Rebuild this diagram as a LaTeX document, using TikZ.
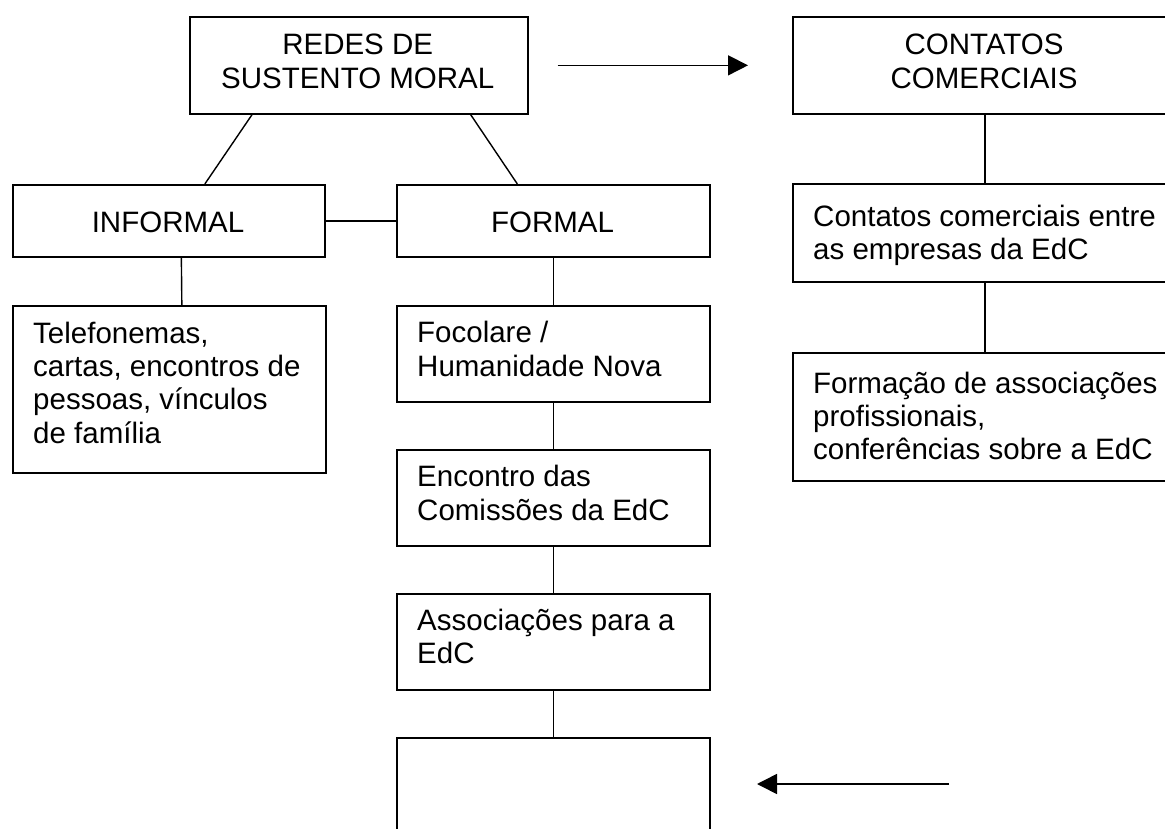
\documentclass[tikz,border=0pt]{standalone}
\usepackage{fontspec}
\setmainfont{Liberation Sans}
\usetikzlibrary{arrows.meta}

\tikzset{
  caixa/.style={draw, line width=1.7pt, anchor=north west, inner sep=0pt},
  rotulo/.style={font=\fontsize{29.5}{33.3}\selectfont, inner sep=0pt},
  liga/.style={line width=1.4pt},
  seta/.style={line width=1.6pt, -{Triangle[length=20pt,width=20pt]}}
}

\begin{document}
\begin{tikzpicture}[x=1pt,y=-1pt]
  \useasboundingbox (0,0) rectangle (1165,829);
  \clip (0,0) rectangle (1165,829);

  % Boxes
  \node[caixa, minimum width=338pt, minimum height=97pt] (redes) at (189,16) {};
  \node[caixa, minimum width=384pt, minimum height=97pt] (contatos) at (792,16) {};
  \node[caixa, minimum width=312pt, minimum height=72pt] (informal) at (12,184) {};
  \node[caixa, minimum width=313pt, minimum height=72pt] (formal) at (396,184) {};
  \node[caixa, minimum width=313pt, minimum height=167pt] (tel) at (12,305) {};
  \node[caixa, minimum width=313pt, minimum height=96pt] (focolare) at (396,305) {};
  \node[caixa, minimum width=313pt, minimum height=96pt] (encontro) at (396,449) {};
  \node[caixa, minimum width=313pt, minimum height=96pt] (assoc) at (396,593) {};
  \node[caixa, minimum width=313pt, minimum height=140pt] (vazio) at (396,737) {};
  \node[caixa, minimum width=384pt, minimum height=98pt] (comerciais) at (792,183) {};
  \node[caixa, minimum width=384pt, minimum height=128pt] (formacao) at (792,352) {};

  % Texts (base = last line)
  \node[rotulo, anchor=base, align=center] (t-redes) at (357.7,88.3) {REDES DE\\SUSTENTO MORAL};
  \node[rotulo, anchor=base, align=center] (t-contatos) at (984,88.3) {CONTATOS\\COMERCIAIS};
  \node[rotulo, anchor=base] (t-informal) at (168,232.7) {INFORMAL};
  \node[rotulo, anchor=base] (t-formal) at (552.5,232.7) {FORMAL};
  \node[rotulo, anchor=base west, align=left] (t-tel) at (33,443)
    {Telefonemas,\\cartas, encontros de\\pessoas, vínculos\\de família};
  \node[rotulo, anchor=base west, align=left] (t-focolare) at (417,376)
    {Focolare /\\Humanidade Nova};
  \node[rotulo, anchor=base west, align=left] (t-encontro) at (417,520)
    {Encontro das\\Comissões da EdC};
  \node[rotulo, anchor=base west, align=left] (t-assoc) at (417,663.3)
    {Associações para a\\EdC};
  \node[rotulo, anchor=base west, align=left] (t-comerciais) at (813,260)
    {Contatos comerciais entre\\as empresas da EdC};
  \node[rotulo, anchor=base west, align=left] (t-formacao) at (813,459.9)
    {Formação de associações\\profissionais,\\conferências sobre a EdC};

  % Links
  \draw[liga] ([xshift=63pt]redes.south west) -- ([xshift=36pt]informal.north);
  \draw[liga] ([xshift=-58pt]redes.south east) -- ([xshift=-36pt]formal.north);
  \draw[liga] (informal) -- (formal);
  \draw[liga] ([xshift=12.5pt]informal.south) -- ([xshift=12.5pt]tel.north);
  \draw[liga] (formal) -- (focolare);
  \draw[liga] (focolare) -- (encontro);
  \draw[liga] (encontro) -- (assoc);
  \draw[liga] (assoc) -- (vazio);
  \draw[liga] (contatos) -- (comerciais);
  \draw[liga] (comerciais) -- (formacao);

  % Arrows
  \draw[seta] ([xshift=29pt]redes.east) -- ([xshift=-44pt]contatos.west);
  \coordinate (origem) at (949,784);
  \coordinate (alvo) at (757,784);
  \draw[seta] (origem) -- (alvo);
\end{tikzpicture}
\end{document}
